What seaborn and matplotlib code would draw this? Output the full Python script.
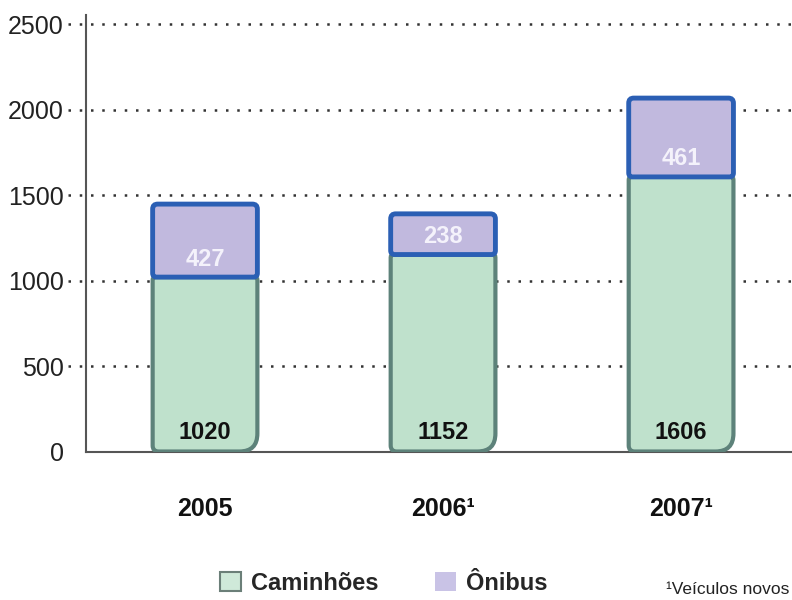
import matplotlib
matplotlib.use("Agg")
import matplotlib.pyplot as plt
from matplotlib.patches import Patch, PathPatch
from matplotlib.path import Path
from matplotlib.ticker import FixedLocator
import seaborn as sns
import pandas as pd

"""Plot setup"""
sns.set_style("white")
plt.rcParams.update({
    "font.family": ["Liberation Sans", "DejaVu Sans"],
    "axes.edgecolor": "#555555",
})

# data
years = ["2005", "2006¹", "2007¹"]
caminhoes = [1020, 1152, 1606]
onibus = [427, 238, 461]
y_ticks = [0, 500, 1000, 1500, 2000, 2500]

totals = [c + o for c, o in zip(caminhoes, onibus)]
df = pd.DataFrame({"ano": years, "caminhoes": caminhoes, "onibus": onibus, "total": totals})

GREEN = "#bfe1cc"
GREEN_EDGE = "#5d827a"
PURPLE = "#c1b9de"
BLUE_EDGE = "#2b5fb4"


def rounded_path(x0, y0, w, h, r):
    # r: dict corner -> (rx, ry) in data units
    bl, br, tr, tl = r["bl"], r["br"], r["tr"], r["tl"]
    x1, y1 = x0 + w, y0 + h
    verts = [
        (x0 + bl[0], y0), (x1 - br[0], y0),
        (x1, y0), (x1, y0 + br[1]),
        (x1, y1 - tr[1]),
        (x1, y1), (x1 - tr[0], y1),
        (x0 + tl[0], y1),
        (x0, y1), (x0, y1 - tl[1]),
        (x0, y0 + bl[1]),
        (x0, y0), (x0 + bl[0], y0),
        (x0 + bl[0], y0),
    ]
    codes = [Path.MOVETO, Path.LINETO,
             Path.CURVE3, Path.CURVE3,
             Path.LINETO,
             Path.CURVE3, Path.CURVE3,
             Path.LINETO,
             Path.CURVE3, Path.CURVE3,
             Path.LINETO,
             Path.CURVE3, Path.CURVE3,
             Path.CLOSEPOLY]
    return Path(verts, codes)


fig = plt.figure(figsize=(7.92, 6.0), dpi=100)
ax = fig.add_axes([86 / 792, 148.5 / 600, 1 - 86 / 792, (451.5 - 15) / 600])

sns.barplot(data=df, x="ano", y="caminhoes", color=GREEN, width=0.44, errorbar=None, ax=ax)
sns.barplot(data=df, x="ano", y="total", color=PURPLE, width=0.44, errorbar=None, ax=ax)

ax.set_xlim(-0.5, 2.466)
ax.set_ylim(0, 2553)

# pixel -> data conversion for corner radii
px_x = 706 / (2.466 + 0.5)
px_y = 436.5 / 2553


def rad(px):
    return (px / px_x, px / px_y)


bars = list(ax.patches)
n = len(years)
green_bars, purple_bars = bars[:n], bars[n:]
for b in bars:
    b.set_visible(False)

for g, p in zip(green_bars, purple_bars):
    gx, gw, gh = g.get_x(), g.get_width(), g.get_height()
    ax.add_patch(PathPatch(
        rounded_path(gx, 0, gw, gh, {"bl": rad(6), "br": rad(18), "tr": rad(3), "tl": rad(3)}),
        facecolor=GREEN, edgecolor=GREEN_EDGE, lw=3, zorder=3))
    ax.add_patch(PathPatch(
        rounded_path(p.get_x(), gh, p.get_width(), p.get_height() - gh,
                     {"bl": rad(4), "br": rad(4), "tr": rad(5), "tl": rad(5)}),
        facecolor=PURPLE, edgecolor=BLUE_EDGE, lw=3.5, zorder=4))

# value labels
for i, (c, o) in enumerate(zip(caminhoes, onibus)):
    ax.text(i, 110, f"{c}", ha="center", va="center", fontsize=17,
            fontweight="bold", color="#111111", zorder=5)
    ax.text(i, c + 105, f"{o}", ha="center", va="center", fontsize=17,
            fontweight="bold", color="#f4f2fb", zorder=5)

# dotted grid lines reaching a bit left of the axis
grid_y = [v for v in y_ticks if v > 0]
ax.hlines(grid_y, -0.025, 1.0, transform=ax.get_yaxis_transform(),
          colors="#333333", linestyles=(0, (1, 3.5)), lw=1.8, clip_on=False, zorder=1)

sns.despine(ax=ax, top=True, right=True)
ax.spines["left"].set_linewidth(1.5)
ax.spines["bottom"].set_linewidth(1.5)
ax.spines["left"].set_zorder(2)

ax.yaxis.set_major_locator(FixedLocator(y_ticks))
ax.tick_params(axis="y", length=0, pad=16, labelsize=18, labelcolor="#222222")
ax.set_xticks(range(n))
ax.set_xticklabels(years, fontsize=18, fontweight="bold", color="#111111")
ax.xaxis.set_minor_locator(FixedLocator([0.5, 1.5]))
ax.tick_params(axis="x", which="major", length=0, pad=33)
ax.tick_params(axis="x", which="minor", length=9, width=1.5, color="#555555", direction="out")
ax.set_xlabel("")
ax.set_ylabel("")

handles = [
    Patch(facecolor="#cfe9d9", edgecolor="#6b7f78", lw=1.5, label="Caminhões"),
    Patch(facecolor="#c9c3e6", edgecolor="none", label="Ônibus"),
]
fig.legend(handles=handles, loc="center left", bbox_to_anchor=(220 / 792, 17 / 600),
           ncol=2, frameon=False, prop={"size": 17, "weight": "bold"},
           handlelength=0.9, handleheight=0.9, handletextpad=0.4,
           columnspacing=2.4, borderpad=0, borderaxespad=0)
fig.text(666 / 792, 11 / 600, "¹Veículos novos", fontsize=12.5, color="#222222",
         ha="left", va="center")

fig.savefig("out.png", dpi=100, facecolor="white")
